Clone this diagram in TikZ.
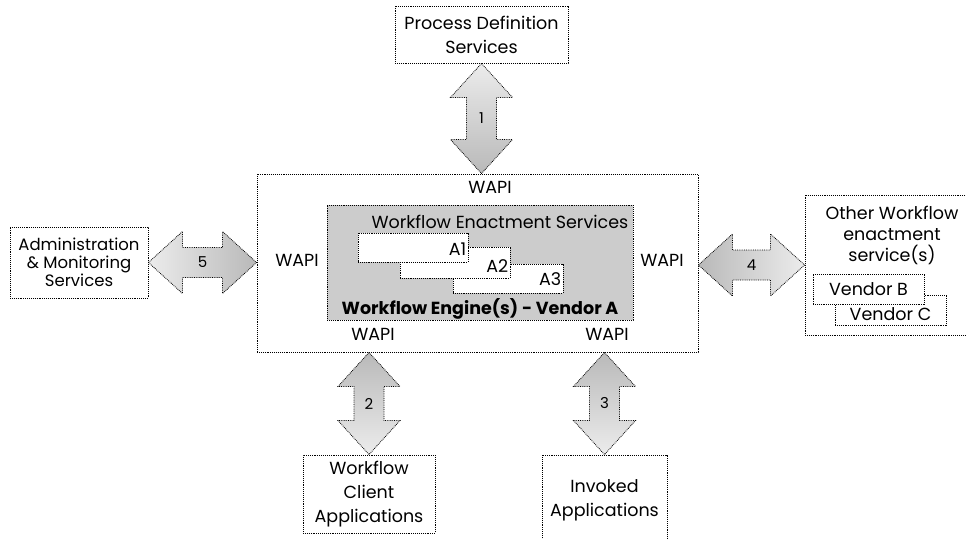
\documentclass[tikz,border=0pt]{standalone}
\usepackage{fontspec}
\setmainfont{Poppins}
\usetikzlibrary{calc}

% double headed block arrow between two tips
\newcommand{\twoway}[4]{%
  \coordinate (ta) at (#1);
  \coordinate (tb) at (#2);
  \coordinate (ha) at ($(ta)!34pt!(tb)$);
  \coordinate (hb) at ($(tb)!34pt!(ta)$);
  \draw[arrowline,#3] (ta) -- ($(ha)!31pt!90:(tb)$) -- ($(ha)!15pt!90:(tb)$)
    -- ($(hb)!15pt!-90:(ta)$) -- ($(hb)!31pt!-90:(ta)$) -- (tb)
    -- ($(hb)!31pt!90:(ta)$) -- ($(hb)!15pt!90:(ta)$)
    -- ($(ha)!15pt!-90:(tb)$) -- ($(ha)!31pt!-90:(tb)$) -- cycle;
  \node[numlabel] at ($(ta)!.5!(tb)$) {#4};
}

\begin{document}
\begin{tikzpicture}[x=1pt,y=-1pt,
  box/.style={draw,densely dotted,line width=0.9pt,fill=white,align=center,inner sep=0pt,font=\fontsize{17.5}{24}\selectfont},
  arrowline/.style={draw,densely dotted,line width=0.8pt},
  numlabel/.style={font=\fontsize{15}{17}\selectfont},
  wapi/.style={inner sep=0pt,font=\fontsize{17.5}{21}\selectfont}]
\useasboundingbox (0,0) rectangle (966,538);

% outer boxes
\node[box,minimum width=173pt,minimum height=57pt] (pds) at (481.5,34.5) {Process Definition\\Services};
\node[box,minimum width=441pt,minimum height=178pt] (main) at (477.5,263) {};
\node[box,minimum width=138pt,minimum height=71pt,font=\fontsize{16.5}{18}\selectfont] (admin) at (79,262.5) {Administration\\\& Monitoring\\Services};
\node[box,minimum width=162pt,minimum height=140pt] (other) at (886,265) {};
\node[box,minimum width=132pt,minimum height=78pt] (wcapp) at (369,494) {Workflow\\Client\\Applications};
\node[box,minimum width=125pt,minimum height=90pt] (invapp) at (604.5,500) {Invoked\\Applications};

% engine
\node[box,fill=gray!40,minimum width=306pt,minimum height=115pt] (engine) at (480,262.5) {};
\node[box,minimum width=110pt,minimum height=29pt] (a3) at (508,278.5) {};
\node[box,minimum width=110pt,minimum height=31pt] (a2) at (455,262.5) {};
\node[box,minimum width=110pt,minimum height=29pt] (a1) at (413,247.5) {};
\node[wapi,anchor=east] at ([xshift=-2pt,yshift=13pt]a1.south east) {A1};
\node[wapi,anchor=east] at ([xshift=-2pt,yshift=12pt]a2.south east) {A2};
\node[wapi,anchor=east] at ([xshift=-2pt,yshift=14pt]a3.south east) {A3};
\node[wapi,anchor=east] at ([xshift=-5pt,yshift=-17pt]engine.north east) {Workflow Enactment Services};
\node[wapi,font=\fontsize{17.5}{21}\selectfont\bfseries] at ([yshift=12pt]engine.south) {Workflow Engine(s) - Vendor A};

% WAPI labels
\node[wapi] at (490,187) {WAPI};
\node[wapi] at (297,260) {WAPI};
\node[wapi] at (662,260) {WAPI};
\node[wapi] at (373,334) {WAPI};
\node[wapi] at (607,334) {WAPI};

% other vendors
\node[wapi,align=center,anchor=north] at (892,206) {Other Workflow\\enactment\\service(s)};
\node[box,minimum width=111pt,minimum height=30pt] (vc) at (890.5,310) {};
\node[wapi] at ([yshift=11pt]vc.south) {Vendor C};
\node[box,minimum width=111pt,minimum height=30pt] (vb) at (868.5,289) {Vendor B};

% arrows
\twoway{pds.south}{pds.south |- main.north}{top color=gray!15,bottom color=gray!55}{1}
\twoway{main.south -| wcapp.north}{wcapp.north}{top color=gray!55,bottom color=gray!15}{2}
\twoway{main.south -| invapp.north}{invapp.north}{top color=gray!55,bottom color=gray!15}{3}
\twoway{main.east |- other.west}{other.west}{left color=gray!55,right color=gray!15}{4}
\twoway{admin.east}{admin.east -| main.west}{left color=gray!15,right color=gray!55}{5}
\end{tikzpicture}
\end{document}
